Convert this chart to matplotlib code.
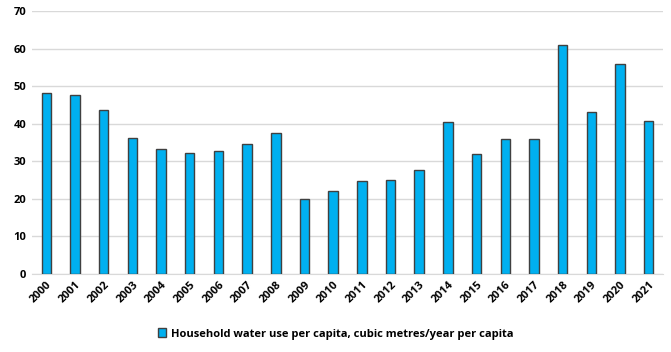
import numpy as np
import matplotlib
matplotlib.use("Agg")
from matplotlib import pyplot as plt

years = [str(y) for y in range(2000, 2022)]
water_use = [48.1, 47.6, 43.7, 36.2, 33.3, 32.2, 32.7, 34.6, 37.5, 20.0, 22.1,
             24.8, 25.0, 27.7, 40.4, 31.9, 35.9, 35.9, 61.0, 43.1, 55.9, 40.7]
series_name = "Household water use per capita, cubic metres/year per capita"

plt.rcParams['font.family'] = ['Open Sans', 'DejaVu Sans']

fig = plt.figure(figsize=(6.71, 3.52), dpi=100)
ax = fig.add_axes([32/671, 1-274/352, 631/671, 263/352])

x = np.arange(len(years))
ax.bar(x, water_use, width=0.33, color='#00B0F0', edgecolor='#404040',
       linewidth=1.0, label=series_name, zorder=3)

ax.set_xlim(-0.5, len(years)-0.5)
ax.set_ylim(0, 70)
ax.set_yticks(range(0, 71, 10))
ax.grid(axis='y', color='#D9D9D9', linewidth=1.0, zorder=0)
ax.set_xticks(x)
ax.set_xticklabels(years, rotation=45, ha='right', rotation_mode='anchor')
ax.tick_params(axis='both', length=0, labelsize=8, pad=4)
for lab in ax.get_xticklabels() + ax.get_yticklabels():
    lab.set_fontweight('bold')
for s in ['top', 'right', 'left']:
    ax.spines[s].set_visible(False)
ax.spines['bottom'].set_color('#D9D9D9')

leg = fig.legend(loc='center', bbox_to_anchor=(0.5, 1-334/352), frameon=False,
                 prop={'size': 8, 'weight': 'bold'}, handlelength=0.8,
                 handleheight=0.8, handletextpad=0.4)

fig.savefig("out.png", dpi=100)
